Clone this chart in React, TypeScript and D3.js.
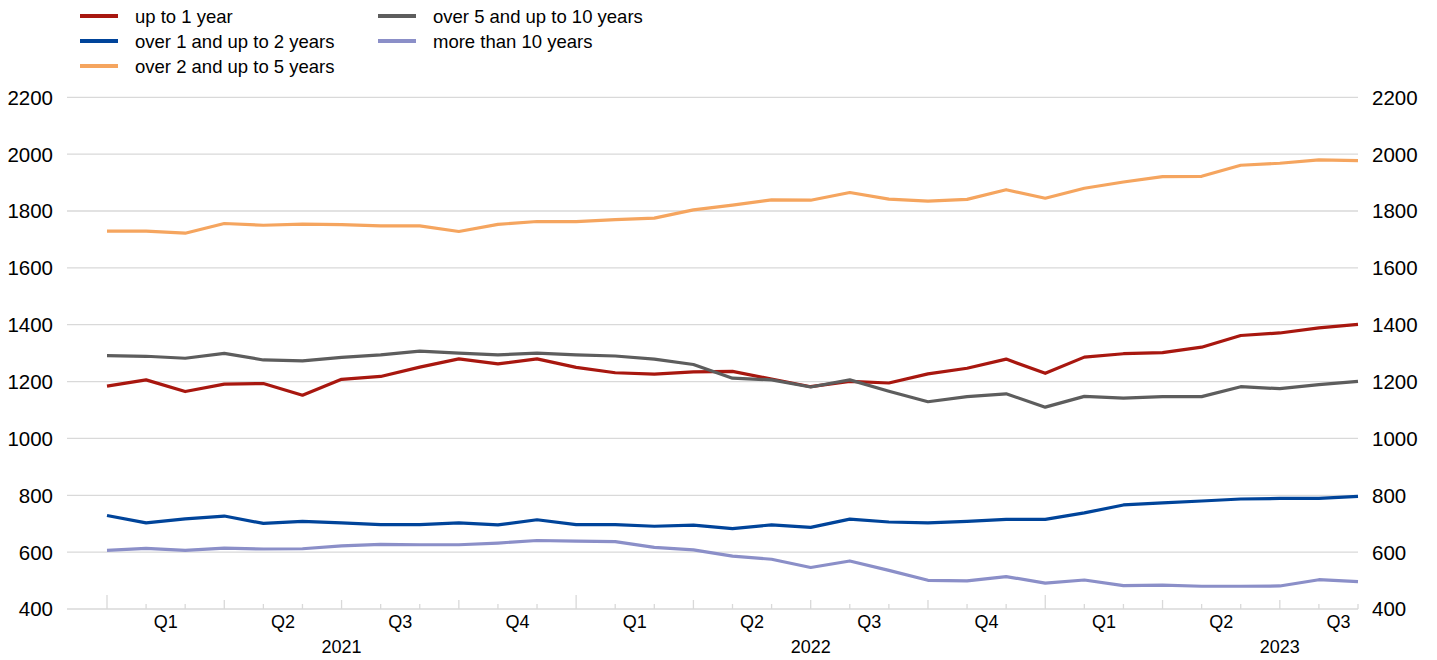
import React from "react";
import * as d3 from "d3";

const months: string[] = d3.range(33).map((i) => {
  const y = 2021 + Math.floor(i / 12);
  const m = (i % 12) + 1;
  return `${y}-${String(m).padStart(2, "0")}`;
});

const upTo1 = [1184, 1206, 1165, 1191, 1193, 1152, 1208, 1218, 1251, 1280, 1262, 1280, 1250, 1231, 1226, 1234, 1236, 1209, 1182, 1201, 1195, 1227, 1247, 1279, 1229, 1286, 1298, 1302, 1321, 1362, 1371, 1389, 1401];
const over1to2 = [729, 703, 717, 727, 701, 708, 703, 697, 697, 703, 696, 714, 697, 697, 691, 695, 683, 696, 687, 716, 706, 703, 708, 715, 715, 738, 766, 773, 780, 787, 789, 789, 796];
const over2to5 = [1729, 1729, 1722, 1756, 1750, 1754, 1752, 1748, 1748, 1728, 1753, 1763, 1763, 1770, 1775, 1804, 1821, 1839, 1838, 1865, 1842, 1835, 1841, 1875, 1845, 1880, 1902, 1921, 1922, 1961, 1968, 1980, 1977];
const over5to10 = [1291, 1289, 1282, 1299, 1276, 1273, 1285, 1294, 1307, 1300, 1294, 1300, 1294, 1290, 1279, 1260, 1212, 1206, 1181, 1206, 1166, 1129, 1147, 1157, 1110, 1148, 1142, 1147, 1147, 1182, 1175, 1189, 1201];
const moreThan10 = [606, 613, 606, 614, 611, 612, 622, 627, 626, 626, 632, 641, 639, 637, 617, 608, 586, 575, 546, 569, 536, 501, 499, 514, 491, 502, 482, 484, 480, 480, 481, 503, 496];

const seriesNames = [
  "up to 1 year",
  "over 1 and up to 2 years",
  "over 2 and up to 5 years",
  "over 5 and up to 10 years",
  "more than 10 years",
];
const seriesColors = ["#a8170f", "#00449a", "#f5a55f", "#5d5d5d", "#8b8fc8"];
const seriesValues = [upTo1, over1to2, over2to5, over5to10, moreThan10];

const yTicks = [400, 600, 800, 1000, 1200, 1400, 1600, 1800, 2000, 2200];
const quarterLabels = ["Q1", "Q2", "Q3", "Q4"];
const years = ["2021", "2022", "2023"];

const FONT = "'Liberation Sans', Arial, sans-serif";

export default function App() {
  const width = 1437;
  const height = 660;
  const x = d3.scaleLinear().domain([0, months.length - 1]).range([107, 1358]);
  const y = d3.scaleLinear().domain([400, 2200]).range([609, 97.3]);
  const gridX0 = 67;
  const gridX1 = 1358;

  const line = d3
    .line<number>()
    .x((_, i) => x(i))
    .y((d) => y(d));

  // legend layout: column, row
  const legendPos = [
    [0, 0],
    [0, 1],
    [0, 2],
    [1, 0],
    [1, 1],
  ];

  const nQuarters = Math.ceil(months.length / 3);

  return (
    <svg
      width={width}
      height={height}
      style={{ position: "absolute", left: 0, top: 0, background: "#fff" }}
      fontFamily={FONT}
    >
      {/* gridlines */}
      {yTicks.map((t) => (
        <line
          key={t}
          x1={gridX0}
          x2={gridX1}
          y1={y(t)}
          y2={y(t)}
          stroke="#d9d9d9"
          strokeWidth={1.3}
        />
      ))}
      {/* y labels */}
      {yTicks.map((t) => (
        <text key={"l" + t} x={53} y={y(t)} dy="0.36em" textAnchor="end" fontSize={20.5} fill="#000">
          {t}
        </text>
      ))}
      {yTicks.map((t) => (
        <text key={"r" + t} x={1372} y={y(t)} dy="0.36em" textAnchor="start" fontSize={20.5} fill="#000">
          {t}
        </text>
      ))}
      {/* x ticks */}
      {months.map((m, i) => {
        const len = i % 12 === 0 ? 14 : i % 3 === 0 ? 9 : 5;
        return (
          <line
            key={m}
            x1={x(i)}
            x2={x(i)}
            y1={y(400)}
            y2={y(400) - len}
            stroke="#d9d9d9"
            strokeWidth={1.3}
          />
        );
      })}
      {/* quarter labels */}
      {d3.range(nQuarters).map((q) => (
        <text
          key={"q" + q}
          x={x(q * 3 + 1.5)}
          y={628}
          textAnchor="middle"
          fontSize={18}
          fill="#000"
        >
          {quarterLabels[q % 4]}
        </text>
      ))}
      {/* year labels */}
      {years.map((yr, k) => (
        <text key={yr} x={x(k * 12 + 6)} y={653} textAnchor="middle" fontSize={18} fill="#000">
          {yr}
        </text>
      ))}
      {/* lines */}
      {seriesValues.map((vals, s) => (
        <path
          key={seriesNames[s]}
          d={line(vals) || ""}
          fill="none"
          stroke={seriesColors[s]}
          strokeWidth={3.2}
          strokeLinejoin="round"
        />
      ))}
      {/* legend */}
      {seriesNames.map((name, s) => {
        const [col, row] = legendPos[s];
        const lx = 80 + col * 298;
        const ly = 16 + row * 25;
        return (
          <g key={"lg" + name}>
            <line x1={lx} x2={lx + 38} y1={ly} y2={ly} stroke={seriesColors[s]} strokeWidth={4} />
            <text x={lx + 55} y={ly} dy="0.36em" fontSize={18.5} fill="#000">
              {name}
            </text>
          </g>
        );
      })}
    </svg>
  );
}
